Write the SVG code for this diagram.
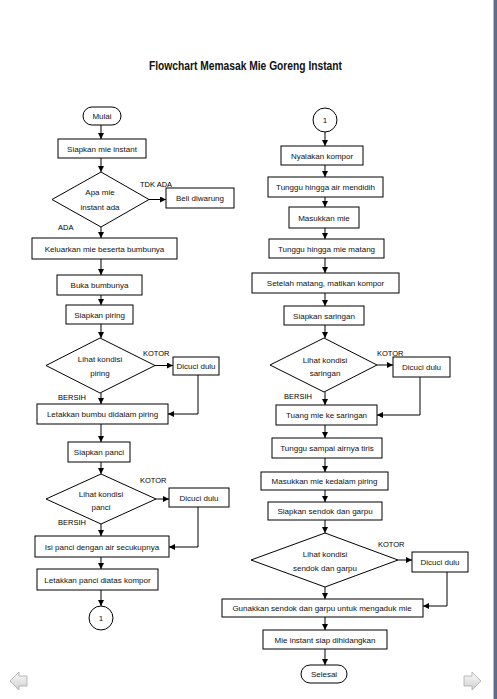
<svg xmlns="http://www.w3.org/2000/svg" width="497" height="699" viewBox="0 0 497 699">
<defs>
<marker id="ah" markerUnits="userSpaceOnUse" markerWidth="6" markerHeight="6" refX="6" refY="3" orient="auto">
<path d="M0,0 L6,3 L0,6 z" fill="#000"/>
</marker>
<linearGradient id="ag" x1="0" y1="0" x2="0" y2="1">
<stop offset="0" stop-color="#fafafa"/>
<stop offset="1" stop-color="#d0d0d0"/>
</linearGradient>
</defs>
<style>
.b{fill:#fff;stroke:#000;stroke-width:1}
.t{font-family:"Liberation Sans",Arial,sans-serif;font-size:8px;fill:#111;text-anchor:middle}
.l{font-family:"Liberation Sans",Arial,sans-serif;font-size:7.5px;fill:#000}
.c{fill:none;stroke:#000;stroke-width:1;marker-end:url(#ah)}
</style>
<rect width="497" height="699" fill="#fff"/>
<rect x="493" y="0" width="1" height="699" fill="#b4bcc8"/>
<rect x="494" y="0" width="3" height="699" fill="#5d6d85"/>
<path d="M10,681 L19,672 L19,676 L27,676 L27,686 L19,686 L19,690 z" fill="url(#ag)" stroke="#a8a8a8" stroke-width="0.8"/>
<path d="M481,681 L472,672 L472,676 L464,676 L464,686 L472,686 L472,690 z" fill="url(#ag)" stroke="#a8a8a8" stroke-width="0.8"/>
<text x="245.5" y="70" font-family="Liberation Sans,Arial,sans-serif" font-size="12" font-weight="bold" text-anchor="middle" textLength="193" lengthAdjust="spacingAndGlyphs" fill="#111">Flowchart Memasak Mie Goreng Instant</text>

<g id="connectors">
<path class="c" d="M101,125 V139"/>
<path class="c" d="M101,158 V172"/>
<path class="c" d="M149,199.5 H166"/>
<path class="c" d="M101,227 V238"/>
<path class="c" d="M101,259 V275"/>
<path class="c" d="M101,295 V305"/>
<path class="c" d="M101,324 V338"/>
<path class="c" d="M155,365.5 H173"/>
<path class="c" d="M198,375 V414 H168"/>
<path class="c" d="M101,393 V404"/>
<path class="c" d="M101,424 V442"/>
<path class="c" d="M101,462 V474"/>
<path class="c" d="M156,499 H169"/>
<path class="c" d="M198,507 V547 H169"/>
<path class="c" d="M101,524 V536"/>
<path class="c" d="M101,557 V569"/>
<path class="c" d="M101,590 V606"/>
<path class="c" d="M325,132 V146"/>
<path class="c" d="M325,165 V177"/>
<path class="c" d="M325,197 V207"/>
<path class="c" d="M325,228 V239"/>
<path class="c" d="M325,258 V273"/>
<path class="c" d="M325,293 V306"/>
<path class="c" d="M325,325 V338"/>
<path class="c" d="M377,365 H393"/>
<path class="c" d="M420,377 V415 H377"/>
<path class="c" d="M325,392 V405"/>
<path class="c" d="M325,425 V438"/>
<path class="c" d="M325,458 V472"/>
<path class="c" d="M325,490 V502"/>
<path class="c" d="M325,520 V533"/>
<path class="c" d="M398,560 H412"/>
<path class="c" d="M447,572 V606 H423"/>
<path class="c" d="M325,587 V599"/>
<path class="c" d="M325,617 V630"/>
<path class="c" d="M325,649 V665"/>
</g>

<g id="labels">
<text class="l" x="140" y="187">TDK ADA</text>
<text class="l" x="58" y="230">ADA</text>
<text class="l" x="143" y="356">KOTOR</text>
<text class="l" x="58" y="400">BERSIH</text>
<text class="l" x="140" y="483">KOTOR</text>
<text class="l" x="58" y="525">BERSIH</text>
<text class="l" x="377" y="356">KOTOR</text>
<text class="l" x="284" y="399">BERSIH</text>
<text class="l" x="378" y="547">KOTOR</text>
</g>

<g id="n-mulai"><rect class="b" x="83" y="107" width="38" height="18" rx="9"/><text class="t" x="102" y="119">Mulai</text></g>
<g id="n-siapkan-mie"><rect class="b" x="58" y="139" width="88" height="19"/><text class="t" x="102" y="151.5">Siapkan mie instant</text></g>
<g id="n-apa-mie"><polygon class="b" points="52,199.5 101,172 149,199.5 101,227"/><text class="t" x="100" y="195">Apa mie</text><text class="t" x="100" y="210">instant ada</text></g>
<g id="n-beli"><rect class="b" x="166" y="188" width="68" height="20"/><text class="t" x="200" y="201">Beli diwarung</text></g>
<g id="n-keluarkan"><rect class="b" x="32" y="238" width="145" height="21"/><text class="t" x="104.5" y="251.5">Keluarkan mie beserta bumbunya</text></g>
<g id="n-buka"><rect class="b" x="57" y="275" width="85" height="20"/><text class="t" x="99.5" y="288">Buka bumbunya</text></g>
<g id="n-siapkan-piring"><rect class="b" x="66" y="305" width="67" height="19"/><text class="t" x="99.5" y="317.5">Siapkan piring</text></g>
<g id="n-kondisi-piring"><polygon class="b" points="46,365.5 100,338 155,365.5 100,393"/><text class="t" x="100" y="362">Lihat kondisi</text><text class="t" x="100" y="376">piring</text></g>
<g id="n-dicuci-1"><rect class="b" x="173" y="357" width="46" height="18"/><text class="t" x="196" y="369">Dicuci dulu</text></g>
<g id="n-letakkan-bumbu"><rect class="b" x="37" y="404" width="131" height="20"/><text class="t" x="102.5" y="417">Letakkan bumbu didalam piring</text></g>
<g id="n-siapkan-panci"><rect class="b" x="68" y="442" width="62" height="20"/><text class="t" x="99" y="455">Siapkan panci</text></g>
<g id="n-kondisi-panci"><polygon class="b" points="46,499 101,474 156,499 101,524"/><text class="t" x="101" y="497">Lihat kondisi</text><text class="t" x="101" y="510">panci</text></g>
<g id="n-dicuci-2"><rect class="b" x="169" y="488" width="60" height="19"/><text class="t" x="199" y="500.5">Dicuci dulu</text></g>
<g id="n-isi-panci"><rect class="b" x="35" y="536" width="134" height="21"/><text class="t" x="102" y="549.5">Isi panci dengan air secukupnya</text></g>
<g id="n-letakkan-panci"><rect class="b" x="37" y="569" width="121" height="21"/><text class="t" x="97.5" y="582.5">Letakkan panci diatas kompor</text></g>
<g id="n-con-1a"><circle class="b" cx="101" cy="618" r="12"/><text class="t" x="101" y="621">1</text></g>

<g id="n-con-1b"><circle class="b" cx="325" cy="120" r="12"/><text class="t" x="325" y="123">1</text></g>
<g id="n-nyalakan"><rect class="b" x="281" y="146" width="82" height="19"/><text class="t" x="322" y="158.5">Nyalakan kompor</text></g>
<g id="n-tunggu-air"><rect class="b" x="268" y="177" width="115" height="20"/><text class="t" x="325.5" y="190">Tunggu hingga air mendidih</text></g>
<g id="n-masukkan-mie"><rect class="b" x="289" y="207" width="70" height="21"/><text class="t" x="324" y="220.5">Masukkan mie</text></g>
<g id="n-tunggu-matang"><rect class="b" x="269" y="239" width="115" height="19"/><text class="t" x="326.5" y="251.5">Tunggu hingga mie  matang</text></g>
<g id="n-setelah"><rect class="b" x="252" y="273" width="147" height="20"/><text class="t" x="325.5" y="286">Setelah matang, matikan  kompor</text></g>
<g id="n-siapkan-saringan"><rect class="b" x="284" y="306" width="80" height="19"/><text class="t" x="324" y="318.5">Siapkan saringan</text></g>
<g id="n-kondisi-saringan"><polygon class="b" points="270,365 324,338 377,365 324,392"/><text class="t" x="325" y="363">Lihat kondisi</text><text class="t" x="325" y="376">saringan</text></g>
<g id="n-dicuci-3"><rect class="b" x="393" y="357" width="57" height="20"/><text class="t" x="421.5" y="370">Dicuci dulu</text></g>
<g id="n-tuang"><rect class="b" x="276" y="405" width="101" height="20"/><text class="t" x="326.5" y="418">Tuang mie ke saringan</text></g>
<g id="n-tiris"><rect class="b" x="272" y="438" width="110" height="20"/><text class="t" x="327" y="451">Tunggu sampai airnya tiris</text></g>
<g id="n-masukkan-piring"><rect class="b" x="261" y="472" width="127" height="18"/><text class="t" x="324.5" y="484">Masukkan mie kedalam piring</text></g>
<g id="n-siapkan-sendok"><rect class="b" x="268" y="502" width="114" height="18"/><text class="t" x="325" y="514">Siapkan sendok dan garpu</text></g>
<g id="n-kondisi-sendok"><polygon class="b" points="251,560 325,533 398,560 325,587"/><text class="t" x="325" y="557">Lihat kondisi</text><text class="t" x="325" y="571">sendok dan garpu</text></g>
<g id="n-dicuci-4"><rect class="b" x="412" y="552" width="56" height="20"/><text class="t" x="440" y="565">Dicuci dulu</text></g>
<g id="n-gunakkan"><rect class="b" x="222" y="599" width="201" height="18"/><text class="t" x="322" y="611">Gunakkan sendok dan garpu untuk mengaduk mie</text></g>
<g id="n-siap"><rect class="b" x="263" y="630" width="124" height="19"/><text class="t" x="325" y="642.5">Mie instant siap dihidangkan</text></g>
<g id="n-selesai"><rect class="b" x="301" y="665" width="46" height="18" rx="9"/><text class="t" x="324" y="677">Selesai</text></g>
</svg>
